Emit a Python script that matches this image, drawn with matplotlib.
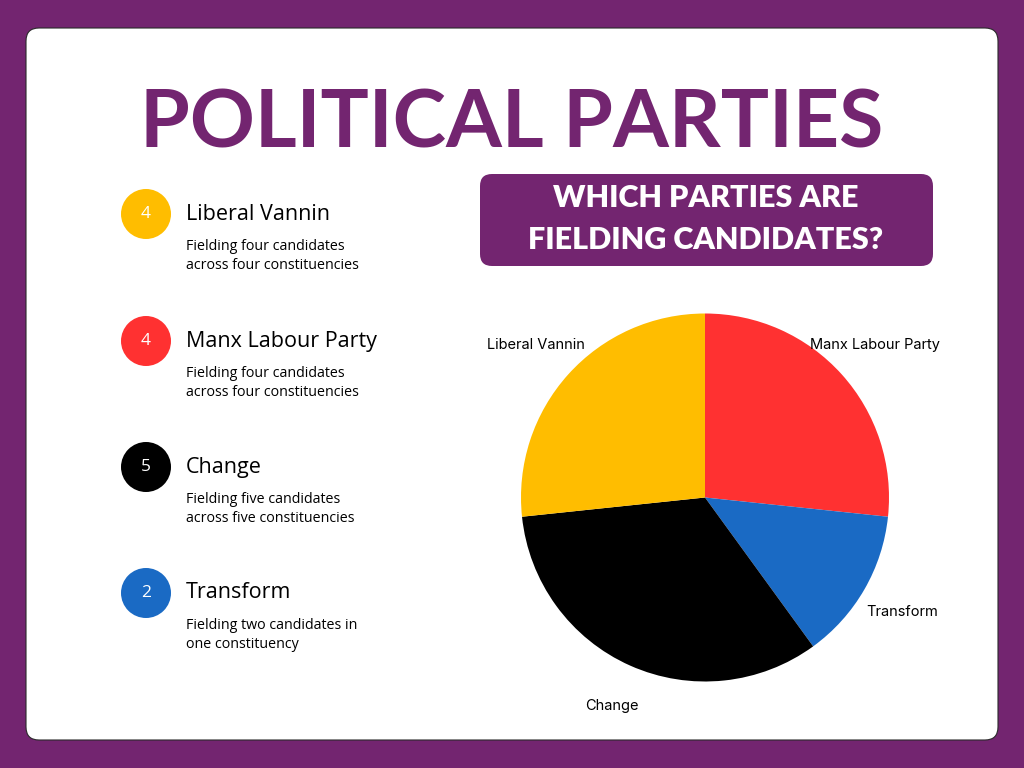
import matplotlib
matplotlib.use("Agg")
import matplotlib.pyplot as plt
from matplotlib.patches import FancyBboxPatch, Circle

# data
parties = ["Liberal Vannin", "Manx Labour Party", "Change", "Transform"]
candidates = [4, 4, 5, 2]
colors = ["#FFBD00", "#FF3131", "#000000", "#1A6AC4"]
blurbs = ["Fielding four candidates\nacross four constituencies",
          "Fielding four candidates\nacross four constituencies",
          "Fielding five candidates\nacross five constituencies",
          "Fielding two candidates in\none constituency"]

# pie order, clockwise from the top
pie_order = ["Manx Labour Party", "Transform", "Change", "Liberal Vannin"]

purple = "#732570"

fig = plt.figure(figsize=(10.24, 7.68), dpi=100)
fig.patch.set_facecolor(purple)

# canvas axes in pixel units
bg = fig.add_axes([0, 0, 1, 1])
bg.set_xlim(0, 1024)
bg.set_ylim(768, 0)
bg.axis("off")

panel = FancyBboxPatch((26, 28), 972, 712, boxstyle="round,pad=0,rounding_size=13",
                       facecolor="white", edgecolor="#2a2a2a", linewidth=0.8)
bg.add_patch(panel)

bg.text(512, 124, "POLITICAL PARTIES", ha="center", va="center", color=purple,
        fontsize=58, fontweight="bold", family="Lato")

box = FancyBboxPatch((480, 174), 453, 92, boxstyle="round,pad=0,rounding_size=12",
                     facecolor=purple, edgecolor="none")
bg.add_patch(box)
bg.text(706, 198, "WHICH PARTIES ARE", ha="center", va="center", color="white",
        fontsize=22, fontweight="heavy", family="Lato")
bg.text(706, 240, "FIELDING CANDIDATES?", ha="center", va="center", color="white",
        fontsize=22, fontweight="heavy", family="Lato")

# left-hand list
row_y = [214, 341, 467, 593]
for name, n, c, txt, y in zip(parties, candidates, colors, blurbs, row_y):
    bg.add_patch(Circle((146, y), 25, facecolor=c, edgecolor="none"))
    bg.text(146, y, str(n), ha="center", va="center", color="white",
            fontsize=12.5, family="Open Sans")
    bg.text(186, y, name, ha="left", va="center", color="black",
            fontsize=15.5, family="Open Sans")
    bg.text(186, y + 42, txt, ha="left", va="center", color="black",
            fontsize=10.3, family="Open Sans", linespacing=1.4)

# pie
ax = fig.add_axes([521 / 1024, 86 / 768, 368 / 1024, 369 / 768])
vals = [candidates[parties.index(p)] for p in pie_order]
cols = [colors[parties.index(p)] for p in pie_order]
wedges, texts = ax.pie(vals, labels=pie_order, colors=cols, startangle=90,
                       counterclock=False, labeldistance=1.24,
                       textprops=dict(fontsize=10.5, family="Inter", color="black"))
for t in texts:
    t.set_ha("center")
    t.set_va("center")
ax.set_xlim(-1, 1)
ax.set_ylim(-1, 1)
ax.set_aspect("equal")

fig.savefig("out.png", dpi=100, facecolor=fig.get_facecolor())
